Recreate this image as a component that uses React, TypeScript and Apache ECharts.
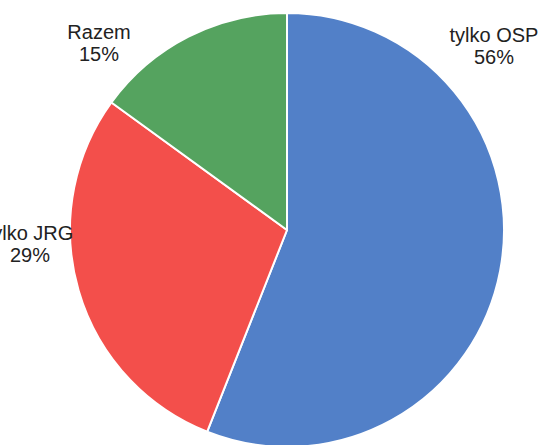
import React, { useEffect, useRef } from "react";
import * as echarts from "echarts";

const categories = ["tylko OSP", "tylko JRG", "Razem"];
const percentValues = [56, 29, 15];
const sliceColors = ["#5280C8", "#F34F4B", "#55A35F"];
// label anchor points (layout only)
const labelAnchors = [
  [494, 24],
  [30, 222],
  [99, 21],
];

export default function App() {
  const ref = useRef<HTMLDivElement>(null);
  useEffect(() => {
    document.body.style.margin = "0";
    const chart = echarts.init(ref.current!, null, { renderer: "svg" });
    chart.setOption({
      animation: false,
      backgroundColor: "#ffffff",
      series: [
        {
          type: "pie",
          center: [287, 230],
          radius: 217,
          startAngle: 90,
          clockwise: true,
          avoidLabelOverlap: false,
          data: categories.map((name, i) => ({
            name,
            value: percentValues[i],
            itemStyle: { color: sliceColors[i] },
          })),
          itemStyle: { borderColor: "#ffffff", borderWidth: 2 },
          label: {
            show: true,
            position: "outside",
            formatter: "{b}\n{c}%",
            fontFamily: "Liberation Sans, Arial, sans-serif",
            fontSize: 20,
            lineHeight: 22,
            color: "#222222",
            align: "center",
            overflow: "none",
            width: 200,
          },
          labelLine: { show: false },
          labelLayout: (params: any) => {
            const p = labelAnchors[params.dataIndex];
            return {
              x: p[0],
              y: p[1],
              align: "center",
              verticalAlign: "top",
              hideOverlap: false,
            };
          },
          emphasis: { disabled: true },
        },
      ],
    });
    return () => chart.dispose();
  }, []);
  return (
    <div
      ref={ref}
      style={{ position: "fixed", left: 0, top: 0, width: 541, height: 445 }}
    />
  );
}
